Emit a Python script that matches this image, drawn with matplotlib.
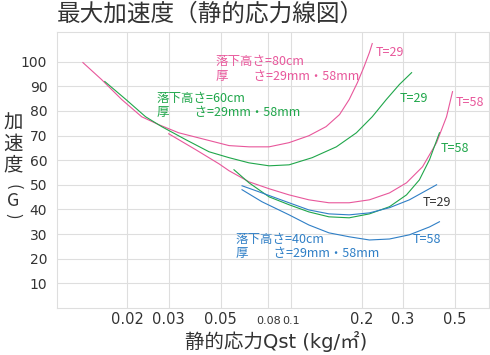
import matplotlib
matplotlib.use("Agg")
import matplotlib.pyplot as plt
from matplotlib.ticker import NullLocator

plt.rcParams['font.family'] = ['Noto Sans CJK JP', 'DejaVu Sans']

# 落下高さ=80cm
pink29_x = [0.0129, 0.0155, 0.0189, 0.0230, 0.0272, 0.0331, 0.0416, 0.0543, 0.0661, 0.0805,
            0.098, 0.119, 0.141, 0.161, 0.177, 0.192, 0.205, 0.216, 0.222]
pink29_y = [99.6, 92.7, 84.6, 77.6, 74.4, 71.1, 68.7, 65.9, 65.4, 65.4,
            67.1, 69.9, 73.6, 78.5, 84.6, 91.5, 98.0, 103.7, 107.3]
pink58_x = [0.0300, 0.0392, 0.0492, 0.0543, 0.0661, 0.0805, 0.098, 0.119, 0.145, 0.177,
            0.216, 0.263, 0.311, 0.364, 0.418, 0.461, 0.489]
pink58_y = [70.7, 64.2, 58.5, 55.7, 51.2, 48.4, 45.9, 43.9, 42.7, 42.7,
            43.9, 46.7, 50.8, 57.3, 67.1, 77.6, 87.8]

# 落下高さ=60cm
green29_x = [0.0160, 0.0197, 0.0239, 0.0280, 0.0355, 0.0446, 0.0543, 0.0661, 0.0805, 0.098,
             0.123, 0.156, 0.190, 0.222, 0.255, 0.290, 0.327]
green29_y = [91.9, 84.6, 77.6, 73.6, 68.3, 63.4, 61.0, 58.9, 57.7, 58.1,
             61.0, 65.4, 71.1, 77.6, 84.6, 90.7, 95.5]
green58_x = [0.0570, 0.0661, 0.0805, 0.098, 0.119, 0.145, 0.177, 0.216, 0.263, 0.311,
             0.353, 0.390, 0.430]
green58_y = [56.1, 50.8, 45.1, 41.9, 39.0, 37.0, 36.6, 38.2, 41.1, 45.9,
             52.0, 60.2, 71.1]

# 落下高さ=40cm
blue29_x = [0.0617, 0.0751, 0.098, 0.119, 0.145, 0.177, 0.216, 0.263, 0.320, 0.418]
blue29_y = [49.6, 46.7, 42.7, 39.8, 38.2, 37.8, 38.6, 40.7, 43.9, 50.0]
blue58_x = [0.0617, 0.0751, 0.098, 0.119, 0.145, 0.177, 0.216, 0.263, 0.320, 0.390, 0.430]
blue58_y = [48.0, 43.1, 37.8, 33.7, 30.5, 28.9, 27.6, 28.0, 29.7, 32.9, 35.0]

x_ticks = [0.02, 0.03, 0.05, 0.08, 0.1, 0.2, 0.3, 0.5]
x_tick_labels = ["0.02", "0.03", "0.05", "0.08", "0.1", "0.2", "0.3", "0.5"]
y_ticks = [10, 20, 30, 40, 50, 60, 70, 80, 90, 100]

PINK = "#e8579b"
GREEN = "#1fa64a"
BLUE = "#2f7fc6"
TEXT = "#333333"
GRID = "#dedede"

fig = plt.figure(figsize=(4.9, 3.55), dpi=100)
ax = fig.add_axes([57 / 490, 47 / 355, 432 / 490, 276 / 355])

for xs, ys, c in [(pink29_x, pink29_y, PINK), (pink58_x, pink58_y, PINK),
                  (green29_x, green29_y, GREEN), (green58_x, green58_y, GREEN),
                  (blue29_x, blue29_y, BLUE), (blue58_x, blue58_y, BLUE)]:
    ax.plot(xs, ys, color=c, lw=0.8, solid_joinstyle="round")

ax.set_xscale("log")
ax.set_xlim(0.01, 0.7)
ax.set_ylim(0, 112)
ax.set_xticks(x_ticks)
ax.set_xticklabels(x_tick_labels)
ax.xaxis.set_minor_locator(NullLocator())
ax.set_yticks(y_ticks)
ax.tick_params(length=0, labelcolor=TEXT)
ax.tick_params(axis="y", pad=7, labelsize=10)
ax.tick_params(axis="x", pad=11.5, labelsize=10.5)
for t in ax.get_xticklabels() + ax.get_yticklabels():
    t.set_family("DejaVu Sans")
for t in ax.get_xticklabels():
    t.set_verticalalignment("baseline")
    if t.get_text() in ("0.08", "0.1"):
        t.set_fontsize(8)
ax.grid(True, color=GRID, lw=0.8)
for s in ax.spines.values():
    s.set_color(GRID)
    s.set_linewidth(0.8)

lab = dict(fontsize=9, va="center", ha="left", linespacing=1.12)
ax.text(0.0477, 97.0, "落下高さ=80cm\n厚　　さ=29mm・58mm", color=PINK, **lab)
ax.text(0.0267, 82.1, "落下高さ=60cm\n厚　　さ=29mm・58mm", color=GREEN, **lab)
ax.text(0.0581, 25.0, "落下高さ=40cm\n厚　　さ=29mm・58mm", color=BLUE, **lab)
ax.text(0.230, 103.7, "T=29", color=PINK, **lab)
ax.text(0.504, 83.3, "T=58", color=PINK, **lab)
ax.text(0.290, 85.0, "T=29", color=GREEN, **lab)
ax.text(0.435, 64.6, "T=58", color=GREEN, **lab)
ax.text(0.364, 42.7, "T=29", color=TEXT, **lab)
ax.text(0.330, 27.6, "T=58", color=BLUE, **lab)

fig.text(57 / 490, 1 - 14 / 355, "最大加速度（静的応力線図）", fontsize=17,
         color=TEXT, ha="left", va="center")
fig.text(276 / 490, 1 - 342 / 355, "静的応力Qst (kg/㎡)", fontsize=14,
         family=["DejaVu Sans", "Noto Sans CJK JP"], color=TEXT,
         ha="center", va="center")

# vertical y label
ylabel_chars = ["加", "速", "度", "(", "G", ")"]
ylabel_pos = [123, 144, 165, 187, 201, 216]
ylabel_size = [14, 14, 14, 12, 13, 12]
for ch, py, fs in zip(ylabel_chars, ylabel_pos, ylabel_size):
    rot = -90 if ch in "()" else 0
    fig.text(13 / 490, 1 - py / 355, ch, fontsize=fs, color=TEXT,
             ha="center", va="center", rotation=rot)

fig.savefig("out.png", dpi=100)
